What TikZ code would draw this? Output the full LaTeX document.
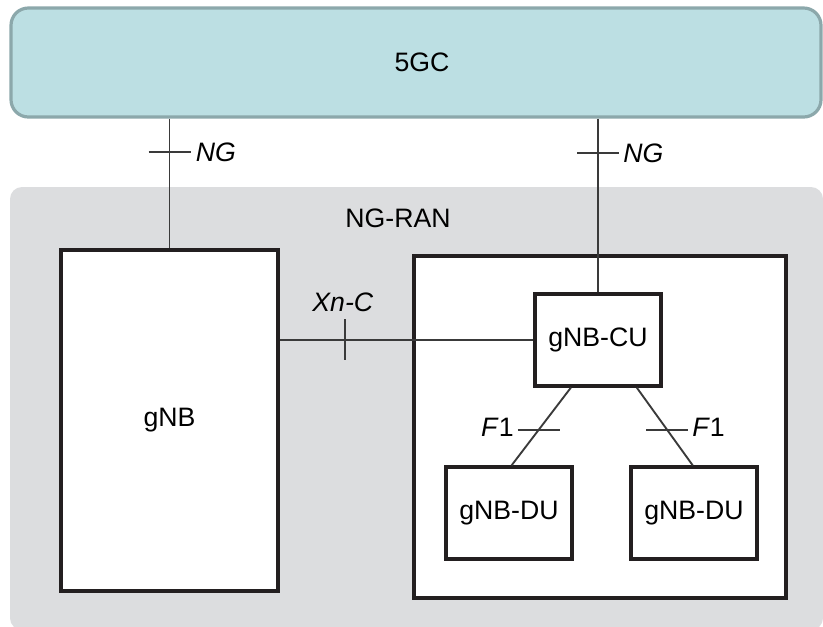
\documentclass[tikz,border=0pt]{standalone}
\usepackage{fontspec}
\setmainfont{Liberation Sans}
\usetikzlibrary{positioning, calc}
\definecolor{coreblue}{HTML}{BCDFE3}
\definecolor{coreedge}{HTML}{8CA8AB}
\definecolor{rangrey}{HTML}{DCDDDF}
\definecolor{boxline}{HTML}{231F20}
\definecolor{linkline}{HTML}{3A3A3A}

\begin{document}
\begin{tikzpicture}[x=0.75pt,y=-0.75pt,font=\fontsize{20}{24}\selectfont,
    unit/.style={draw=boxline,line width=2.5pt,fill=white,inner sep=0pt},
    link/.style={draw=linkline,line width=1.4pt},
    iface/.style={font=\fontsize{20}{24}\selectfont,inner sep=0pt}]
    \useasboundingbox (0,0) rectangle (823,626);
    \fill[rangrey,rounded corners=9pt] (10,187) rectangle (823,630);
    \node[draw=coreedge,fill=coreblue,line width=2.4pt,rounded corners=13pt,
          minimum width=607.5pt,minimum height=81.75pt,
          label={[xshift=4.5pt]center:5GC}] (core) at (416,62.5) {};
    \node (ran) at (398,218) {NG-RAN};

    \node[unit,minimum width=162.75pt,minimum height=255.75pt] (gnb) at (169.5,420.5) {gNB};
    \node[unit,minimum width=279pt,minimum height=256.5pt] (split) at (600,427) {};
    \node[unit,minimum width=94.5pt,minimum height=69pt] (cu) at (598,340) {gNB-CU};
    \node[unit,minimum width=94.5pt,minimum height=69pt] (du1) at (509,513) {gNB-DU};
    \node[unit,minimum width=94.5pt,minimum height=69pt] (du2) at (694,513) {gNB-DU};

    % NG towards the core
    \draw[link] (gnb.north |- core.south) -- coordinate[pos=0.26] (ngl) (gnb.north);
    \draw[link] ($(ngl)+(-21,0)$) -- ($(ngl)+(21,0)$);
    \node[iface,anchor=base west] (nglabel) at ($(ngl)+(26,9)$) {\textit{NG}};
    \draw[link] (cu.north |- core.south) -- coordinate[pos=0.2] (ngr) (cu.north);
    \draw[link] ($(ngr)+(-21,0)$) -- ($(ngr)+(21,0)$);
    \node[iface,anchor=base west] (ngrlabel) at ($(ngr)+(25,9)$) {\textit{NG}};

    % Xn-C between the gNBs
    \draw[link] (gnb.east |- cu.west) -- coordinate[pos=0.257] (xn) (cu.west);
    \draw[link] ($(xn)+(0,-21)$) -- ($(xn)+(0,20)$);
    \node[iface,anchor=base] (xnlabel) at ($(xn)+(-2,-29)$) {\textit{Xn-C}};

    % F1 to the DUs
    \draw[link] ($(cu.south west)!0.29!(cu.south east)$) -- coordinate[pos=0.54] (f1l)
                ($(du1.north west)!0.52!(du1.north east)$);
    \draw[link] ($(f1l)+(-21,0)$) -- ($(f1l)+(21,0)$);
    \node[iface,anchor=base east] (f1llabel) at ($(f1l)+(-25,7)$) {\textit{F}1};
    \draw[link] ($(cu.south west)!0.8!(cu.south east)$) -- coordinate[pos=0.54] (f1r)
                ($(du2.north west)!0.49!(du2.north east)$);
    \draw[link] ($(f1r)+(-21,0)$) -- ($(f1r)+(21,0)$);
    \node[iface,anchor=base west] (f1rlabel) at ($(f1r)+(25,7)$) {\textit{F}1};
\end{tikzpicture}
\end{document}
